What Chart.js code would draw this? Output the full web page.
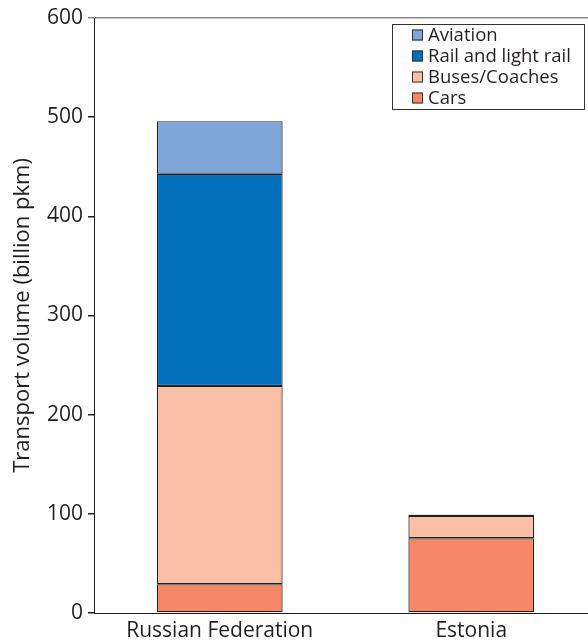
<!DOCTYPE html>
<html>
<head>
<meta charset="utf-8">
<script src="https://cdn.jsdelivr.net/npm/chart.js@4/dist/chart.umd.min.js"></script>
<style>
  html, body { margin: 0; padding: 0; background: #fff; overflow: hidden; }
  #wrap { width: 597px; height: 640px; }
</style>
</head>
<body>
<div id="wrap"><canvas id="chart"></canvas></div>
<script>
const countries = ['Russian Federation', 'Estonia'];
const cars = [29, 75.4];
const buses = [200, 22.4];
const rail = [214, 1.2];
const aviation = [53, 0.4];
const yTicks = [0, 100, 200, 300, 400, 500, 600];

const FONT = "'Open Sans', 'Noto Sans', sans-serif";
const INK = '#231f20';

// legend box drawn inside the plot, top-right, reversed order like the source
const boxLegend = {
  id: 'boxLegend',
  afterDraw(chart) {
    const { ctx, chartArea } = chart;
    const w = 192, h = 85;
    const x = chartArea.right - 13 - w;
    const y = chartArea.top + 5.5;
    ctx.save();
    ctx.strokeStyle = '#333';
    ctx.lineWidth = 1;
    ctx.strokeRect(Math.round(x) + 0.5, Math.round(y) + 0.5, w, h);
    ctx.font = '18.5px ' + FONT;
    ctx.textBaseline = 'middle';
    const sets = chart.data.datasets.slice().reverse();
    sets.forEach((ds, i) => {
      const cy = y + 11.5 + i * 21;
      ctx.fillStyle = ds.backgroundColor;
      ctx.fillRect(x + 20, cy - 5.5, 11, 11);
      ctx.strokeStyle = '#333';
      ctx.strokeRect(x + 20.5, cy - 5, 10, 10);
      ctx.fillStyle = INK;
      ctx.fillText(ds.label, x + 36, cy + 1);
    });
    ctx.restore();
  }
};

new Chart('chart', {
  type: 'bar',
  data: {
    labels: countries,
    datasets: [
      { label: 'Cars', data: cars, backgroundColor: '#f58766' },
      { label: 'Buses/Coaches', data: buses, backgroundColor: '#fbbfa6' },
      { label: 'Rail and light rail', data: rail, backgroundColor: '#0070bc' },
      { label: 'Aviation', data: aviation, backgroundColor: '#7ea6d8' }
    ].map(d => Object.assign(d, {
      borderColor: '#222',
      borderWidth: 1.2,
      borderSkipped: false,
      categoryPercentage: 1,
      barPercentage: 0.5
    }))
  },
  options: {
    responsive: true,
    maintainAspectRatio: false,
    animation: false,
    layout: { padding: { top: 18, right: 0, left: 0, bottom: 0 } },
    plugins: {
      legend: { display: false },
      tooltip: { enabled: false }
    },
    scales: {
      x: {
        stacked: true,
        grid: { display: false, drawTicks: false },
        border: { display: true, color: INK, width: 1 },
        ticks: { color: INK, font: { family: FONT, size: 21 }, padding: 5 },
        afterFit: s => { s.height = 27; }
      },
      y: {
        stacked: true,
        min: 0,
        max: 600,
        afterBuildTicks: s => { s.ticks = yTicks.map(v => ({ value: v })); },
        grid: {
          drawOnChartArea: true,
          color: c => (c.tick && c.tick.value === 600 ? '#888' : 'rgba(0,0,0,0)'),
          tickColor: c => (c.tick && c.tick.value === 600 ? '#888' : INK),
          tickLength: 6,
          lineWidth: 1.5
        },
        border: { display: true, color: INK, width: 1 },
        ticks: { color: INK, font: { family: FONT, size: 21 }, padding: 5 },
        title: {
          display: true,
          text: 'Transport volume (billion pkm)',
          color: INK,
          font: { family: FONT, size: 22 },
          padding: { top: 10, bottom: 0 }
        },
        afterFit: s => { s.width = 94; }
      }
    }
  },
  plugins: [boxLegend]
});
</script>
</body>
</html>
